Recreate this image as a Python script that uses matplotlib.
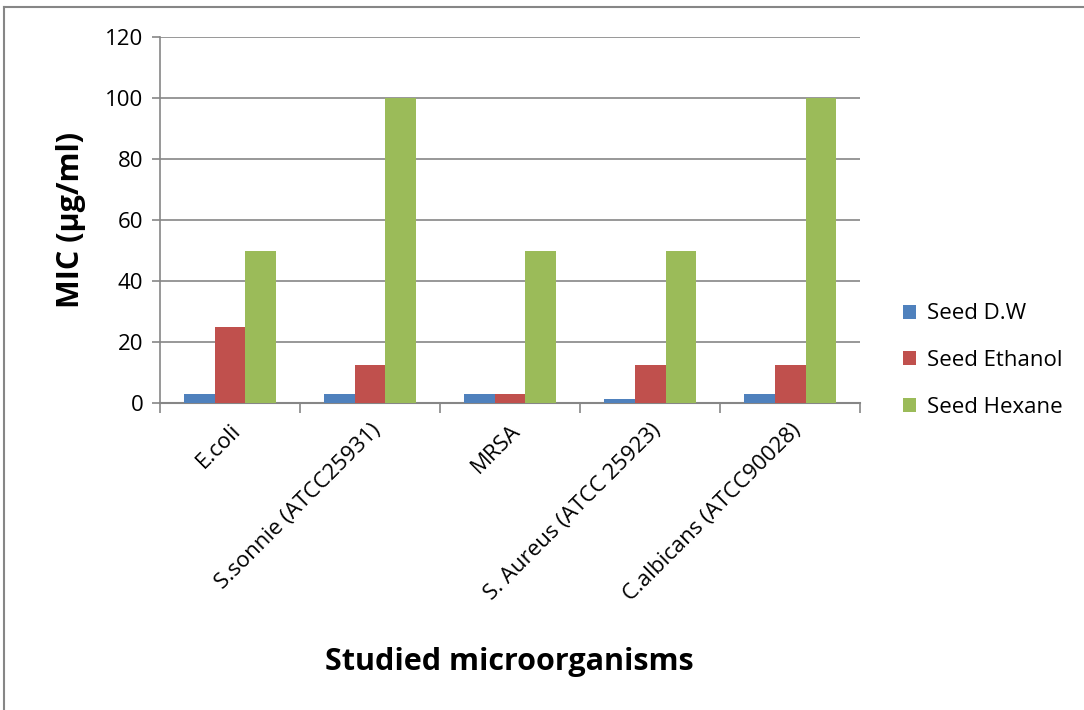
import matplotlib.pyplot as plt
import numpy as np
from matplotlib.lines import Line2D

# MIC values per organism and extract
organisms = ['E.coli', 'S.sonnie (ATCC25931)', 'MRSA',
             'S. Aureus (ATCC 25923)', 'C.albicans (ATCC90028)']
seed_dw = [3.125, 3.125, 3.125, 1.56, 3.125]
seed_ethanol = [25, 12.5, 3.125, 12.5, 12.5]
seed_hexane = [50, 100, 50, 50, 100]
series_names = ['Seed D.W', 'Seed Ethanol', 'Seed Hexane']
colors = ['#4F81BD', '#C0504D', '#9BBB59']
y_ticks = [0, 20, 40, 60, 80, 100, 120]

plt.rcParams['font.family'] = ['Open Sans', 'DejaVu Sans']

fig = plt.figure(figsize=(10.84, 7.10), dpi=100)
ax = fig.add_axes([0.1476, 0.432, 0.6458, 0.5155])

x = np.arange(len(organisms))
width = 0.221
for i, (vals, name, c) in enumerate(zip([seed_dw, seed_ethanol, seed_hexane], series_names, colors)):
    ax.bar(x + (i - 1) * width, vals, width, color=c, label=name, zorder=3)

ax.set_xlim(-0.5, len(organisms) - 0.5)
ax.set_ylim(0, 120)
ax.set_yticks(y_ticks)
ax.tick_params(axis='y', labelsize=16, length=6, width=1.2, color='#868686', pad=6)
ax.yaxis.grid(True, color='#868686', linewidth=1.2, zorder=0)

# category ticks at group boundaries, labels at centres
ax.set_xticks(np.arange(-0.5, len(organisms)), minor=False)
ax.set_xticklabels([])
ax.tick_params(axis='x', length=7, color='#868686', width=1.2)
ax.set_xticks(x, minor=True)
ax.set_xticklabels(organisms, minor=True, rotation=45, ha='right',
                   rotation_mode='anchor', fontsize=16)
ax.tick_params(axis='x', which='minor', length=0, pad=12)

for s in ['top', 'right']:
    ax.spines[s].set_visible(False)
ax.spines['left'].set_color('#868686')
ax.spines['bottom'].set_color('#868686')
ax.spines['left'].set_linewidth(1.2)
ax.spines['bottom'].set_linewidth(1.5)

ax.set_ylabel('MIC (µg/ml)', fontsize=22, fontweight='bold', labelpad=14)
fig.text(0.47, 0.068, 'Studied microorganisms', fontsize=22,
         fontweight='bold', ha='center', va='center')

ax.legend(loc='center left', bbox_to_anchor=(1.061, 0.117), frameon=False,
          fontsize=16, handlelength=0.6, handleheight=0.6, handletextpad=0.5,
          labelspacing=1.15, borderpad=0, borderaxespad=0)

# outer chart frame
fig.add_artist(Line2D([0.004, 1.0], [0.99, 0.99], color='#868686', lw=1.5))
fig.add_artist(Line2D([0.004, 0.004], [0.0, 0.99], color='#868686', lw=1.5))

fig.savefig('out.png', dpi=100)
